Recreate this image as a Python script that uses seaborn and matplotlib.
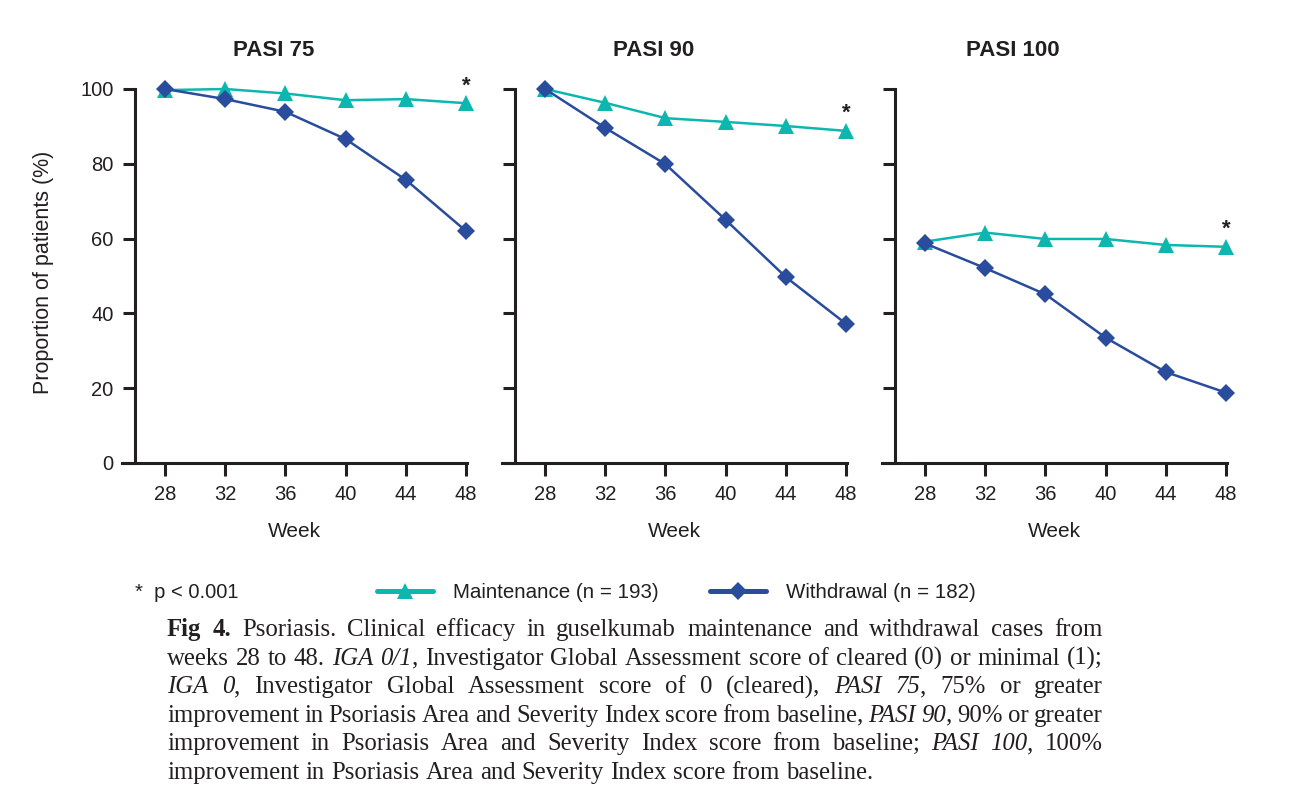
import matplotlib
matplotlib.use("Agg")
import matplotlib.pyplot as plt
from matplotlib.lines import Line2D
import pandas as pd
import seaborn as sns

# data
weeks = [28, 32, 36, 40, 44, 48]
panel_titles = ["PASI 75", "PASI 90", "PASI 100"]

pasi75_maintenance = [99.7, 100.0, 98.8, 97.0, 97.3, 96.2]
pasi75_withdrawal = [100.0, 97.3, 93.9, 86.6, 75.7, 62.0]
pasi90_maintenance = [100.0, 96.3, 92.2, 91.2, 90.1, 88.8]
pasi90_withdrawal = [100.0, 89.6, 79.9, 65.0, 49.7, 37.2]
pasi100_maintenance = [59.2, 61.6, 59.9, 59.9, 58.3, 57.8]
pasi100_withdrawal = [58.7, 52.1, 45.1, 33.5, 24.3, 18.8]

maintenance = [pasi75_maintenance, pasi90_maintenance, pasi100_maintenance]
withdrawal = [pasi75_withdrawal, pasi90_withdrawal, pasi100_withdrawal]

label_maint = "Maintenance (n = 193)"
label_withdr = "Withdrawal (n = 182)"

TEAL = "#0DB7B0"
NAVY = "#2A4C9C"
INK = "#231F20"

sns.set_style("ticks")
plt.rcParams["font.family"] = ["Liberation Sans", "DejaVu Sans"]
plt.rcParams["text.color"] = INK
plt.rcParams["axes.labelcolor"] = INK
plt.rcParams["xtick.color"] = INK
plt.rcParams["ytick.color"] = INK

fig = plt.figure(figsize=(12.96, 7.92), dpi=100)
W, H = 1296, 792

title_x = [0.44, 0.44, 0.38]

for i in range(3):
    left = 122 + 380 * i
    ax = fig.add_axes([left / W, 1 - 463 / H, 345 / W, 374 / H])
    df = pd.DataFrame({"week": weeks, "maint": maintenance[i], "withdr": withdrawal[i]})
    sns.lineplot(data=df, x="week", y="maint", ax=ax, color=TEAL, marker="^",
                 markersize=12, markeredgewidth=0, linewidth=1.8, clip_on=False)
    sns.lineplot(data=df, x="week", y="withdr", ax=ax, color=NAVY, marker="D",
                 markersize=9.5, markeredgewidth=0, linewidth=1.8, clip_on=False)
    # significance marker above last maintenance point
    ax.text(weeks[-1], maintenance[i][-1] + 4.6, "*", ha="center", va="center",
            fontsize=16, fontweight="bold", color=INK)

    ax.set_xlim(25.14, 48.06)
    ax.set_ylim(0, 100)
    ax.set_xticks(weeks)
    ax.set_yticks([0, 20, 40, 60, 80, 100])
    ax.tick_params(length=9, width=2.2, labelsize=14.5, pad=6.5)
    for s in ["top", "right"]:
        ax.spines[s].set_visible(False)
    for s in ["left", "bottom"]:
        ax.spines[s].set_linewidth(2.2)
        ax.spines[s].set_color(INK)
    ax.spines["left"].set_position(("axes", 13 / 345))
    ax.set_xlabel("Week", fontsize=15, labelpad=13)
    ax.set_title(panel_titles[i], fontsize=16, fontweight="bold", pad=24, x=title_x[i])
    if i == 0:
        ax.set_ylabel("Proportion of patients (%)", fontsize=15.5)
        ax.yaxis.set_label_coords(-0.196, 0.51)
    else:
        ax.set_ylabel("")
        ax.set_yticklabels([])

# legend row
fig.text(135 / W, 1 - 593 / H, "*  p < 0.001", fontsize=14.5, va="center", ha="left")
handles = [
    Line2D([], [], color=TEAL, lw=3.6, marker="^", markersize=12, markeredgewidth=0),
    Line2D([], [], color=NAVY, lw=3.6, marker="D", markersize=9.5, markeredgewidth=0),
]
fig.legend(handles, [label_maint, label_withdr], loc="center left",
           bbox_to_anchor=(377 / W, 1 - 593 / H), ncol=2, frameon=False,
           fontsize=14.8, handlelength=2.7, handletextpad=1.0, columnspacing=2.5,
           borderpad=0, borderaxespad=0)

# justified caption
caption_lines = [
    [("Fig 4.", "bold"), (" Psoriasis. Clinical efficacy in guselkumab maintenance and withdrawal cases from", "normal")],
    [("weeks 28 to 48. ", "normal"), ("IGA 0/1", "italic"),
     (", Investigator Global Assessment score of cleared (0) or minimal (1);", "normal")],
    [("IGA 0", "italic"), (", Investigator Global Assessment score of 0 (cleared), ", "normal"),
     ("PASI 75", "italic"), (", 75% or greater", "normal")],
    [("improvement in Psoriasis Area and Severity Index score from baseline, ", "normal"),
     ("PASI 90", "italic"), (", 90% or greater", "normal")],
    [("improvement in Psoriasis Area and Severity Index score from baseline; ", "normal"),
     ("PASI 100", "italic"), (", 100%", "normal")],
    [("improvement in Psoriasis Area and Severity Index score from baseline.", "normal")],
]


def words_of(segments):
    words = [[]]
    for txt, st in segments:
        parts = txt.split(" ")
        for k, p in enumerate(parts):
            if k > 0:
                words.append([])
            if p:
                words[-1].append((p, st))
    return [w for w in words if w]


renderer = fig.canvas.get_renderer()
x0, x1 = 167, 1103
cap_size = 17.8
cap_family = ["Liberation Serif", "DejaVu Serif"]
probe = fig.text(0, 0, "a b", fontsize=cap_size, family=cap_family)
probe2 = fig.text(0, 0, "ab", fontsize=cap_size, family=cap_family)
sp = probe.get_window_extent(renderer).width - probe2.get_window_extent(renderer).width
probe.remove()
probe2.remove()

for li, segs in enumerate(caption_lines):
    y = 1 - (636 + li * 28.6) / H
    words = words_of(segs)
    texts = []
    widths = []
    for w in words:
        parts = []
        tot = 0
        for piece, st in w:
            t = fig.text(0, y, piece, fontsize=cap_size, va="baseline", ha="left",
                         family=cap_family,
                         fontweight="bold" if st == "bold" else "normal",
                         fontstyle="italic" if st == "italic" else "normal")
            wd = t.get_window_extent(renderer).width
            parts.append((t, wd))
            tot += wd
        texts.append(parts)
        widths.append(tot)
    last = li == len(caption_lines) - 1
    if last or len(words) < 2:
        gap = sp
    else:
        gap = (x1 - x0 - sum(widths)) / (len(words) - 1)
    x = x0
    for parts in texts:
        for t, wd in parts:
            t.set_x(x / W)
            x += wd
        x += gap

fig.savefig("out.png", dpi=100)
